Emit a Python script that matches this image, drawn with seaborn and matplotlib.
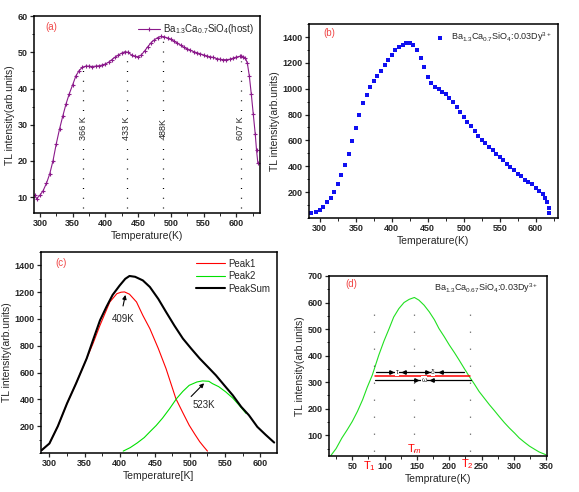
import matplotlib
matplotlib.use("Agg")
import matplotlib.pyplot as plt
import matplotlib.transforms as mtransforms
from matplotlib.ticker import AutoMinorLocator
import seaborn as sns

# (a) host TL glow curve
temp_a = [292, 295, 300, 305, 310, 315, 320, 325, 330, 335, 340, 345, 350, 355, 360,
          365, 370, 375, 380, 385, 390, 395, 400, 405, 410, 415, 420, 425, 430, 435,
          440, 445, 450, 455, 460, 465, 470, 475, 480, 485, 490, 495, 500, 505, 510,
          515, 520, 525, 530, 535, 540, 545, 550, 555, 560, 565, 570, 575, 580, 585,
          590, 595, 600, 605, 608, 611, 614, 617, 620, 623, 626, 629, 631, 633]
tl_a = [10.5, 9.6, 10.5, 11.8, 13.8, 16.4, 20.0, 24.7, 28.8, 32.4, 35.8, 38.6, 41.0, 43.5, 45.0,
        45.9, 46.2, 46.2, 46.1, 46.2, 46.3, 46.5, 46.8, 47.3, 48.0, 48.7, 49.3, 49.8, 50.2, 50.0,
        49.3, 48.9, 48.8, 49.3, 50.4, 51.6, 52.7, 53.5, 54.1, 54.4, 54.3, 54.0, 53.6, 53.1, 52.6,
        52.0, 51.4, 51.0, 50.6, 50.2, 49.9, 49.6, 49.3, 49.0, 48.8, 48.6, 48.3, 48.1, 48.0, 48.0,
        48.1, 48.4, 48.7, 48.9, 49.0, 48.8, 48.5, 47.0, 43.5, 38.5, 33.0, 27.5, 23.0, 19.5]
peaks_a = [366, 433, 488, 607]
peak_labels_a = ["366 K", "433 K", "488K", "607 K"]
peak_tops_a = [45.5, 49.5, 53.5, 47.5]

# (b) Dy doped TL glow curve
temp_b = [288, 295, 300, 305, 310, 315, 320, 325, 330, 335, 340, 345, 350, 355, 360,
          365, 370, 375, 380, 385, 390, 395, 400, 405, 410, 415, 420, 425, 430, 435,
          440, 445, 450, 455, 460, 465, 470, 475, 480, 485, 490, 495, 500, 505, 510,
          515, 520, 525, 530, 535, 540, 545, 550, 555, 560, 565, 570, 575, 580, 585,
          590, 595, 600, 605, 610, 613, 616, 618, 619]
tl_b = [41, 46, 62, 87, 123, 156, 200, 259, 336, 413, 497, 592, 695, 797, 887,
        951, 1010, 1059, 1097, 1138, 1182, 1220, 1259, 1297, 1323, 1341, 1356, 1356, 1336, 1297,
        1241, 1169, 1087, 1041, 1010, 995, 977, 959, 931, 900, 862, 823, 785, 746, 708,
        669, 636, 605, 579, 549, 523, 497, 472, 446, 420, 395, 369, 344, 323, 297,
        277, 259, 233, 210, 182, 156, 123, 80, 41]

# (c) deconvolution
temp_sum = [289, 300, 312, 325, 338, 353, 362, 372, 381, 390, 400, 408, 414, 422, 433,
            443, 455, 466, 478, 490, 502, 514, 526, 537, 549, 561, 573, 584, 596, 608, 620]
tl_sum = [21, 71, 200, 369, 520, 705, 841, 990, 1089, 1180, 1250, 1300, 1321, 1315, 1288,
          1239, 1150, 1053, 950, 854, 778, 705, 640, 580, 505, 431, 345, 282, 195, 135, 78]
temp_p1 = [289, 300, 312, 325, 338, 353, 362, 372, 386, 396, 402, 407, 414, 424, 433,
           443, 455, 466, 480, 490, 499, 507, 514, 520, 525]
tl_p1 = [21, 71, 200, 369, 520, 705, 816, 953, 1127, 1189, 1200, 1202, 1185, 1127, 1027,
         928, 780, 630, 406, 300, 207, 140, 84, 45, 14]
temp_p2 = [405, 415, 425, 435, 443, 452, 461, 471, 481, 490, 499, 510, 518, 527, 532,
           541, 551, 561, 570, 580]
tl_p2 = [14, 40, 75, 115, 158, 205, 260, 330, 406, 460, 505, 530, 538, 535, 518,
         495, 456, 410, 357, 295]

# (d) single peak with shape parameters
temp_d = [17, 25, 34, 42, 50, 58, 66, 73, 81, 91, 99, 107, 114, 122, 130, 138, 146, 153,
          161, 169, 177, 184, 192, 200, 208, 215, 223, 231, 239, 246, 254, 262, 270, 277,
          285, 293, 301, 308, 316, 324, 332, 339, 345, 349]
tl_d = [24, 50, 90, 120, 152, 190, 234, 280, 327, 402, 455, 502, 545, 577, 600, 612, 619, 609,
        590, 565, 535, 502, 472, 440, 411, 384, 352, 321, 292, 265, 240, 215, 192, 171,
        148, 127, 108, 90, 74, 59, 47, 37, 31, 27]
T1, Tm, T2 = 84, 146, 232
half_height = 324

sns.set_style("ticks")
plt.rcParams['font.family'] = ['Liberation Sans', 'DejaVu Sans']
plt.rcParams['mathtext.fontset'] = 'custom'
plt.rcParams['mathtext.rm'] = 'Liberation Sans'
plt.rcParams['mathtext.it'] = 'Liberation Sans:italic'

fig = plt.figure(figsize=(5.79, 4.92), dpi=100)
ax_a = fig.add_axes([0.0587, 0.567, 0.390, 0.400])
ax_b = fig.add_axes([0.5337, 0.557, 0.430, 0.394])
ax_c = fig.add_axes([0.0708, 0.0793, 0.4076, 0.4085])
ax_d = fig.add_axes([0.5682, 0.0732, 0.3765, 0.3659])

tag_color = "#f04848"
purple = "#8b1a8b"


def style(ax, xticks, yticks):
    ax.set_xticks(xticks, [str(t) for t in xticks], fontweight='bold')
    ax.set_yticks(yticks, [str(t) for t in yticks], fontweight='bold')
    for s in ax.spines.values():
        s.set_linewidth(1.1)
        s.set_color("black")
    ax.tick_params(which='major', direction='out', length=3, width=0.9, labelsize=6.5, pad=1.5)
    ax.tick_params(which='minor', direction='out', length=1.8, width=0.7)
    ax.xaxis.set_minor_locator(AutoMinorLocator(2))
    ax.yaxis.set_minor_locator(AutoMinorLocator(2))
    ax.set_ylabel("TL intensity(arb.units)", fontsize=7.5, labelpad=2)


# ---- (a)
sns.lineplot(x=temp_a, y=tl_a, ax=ax_a, color=purple, lw=0.8, marker='+', ms=3.5,
             mew=0.8, mec=purple, estimator=None, label="Ba$_{1.3}$Ca$_{0.7}$SiO$_4$(host)")
for px, lab, top in zip(peaks_a, peak_labels_a, peak_tops_a):
    ax_a.plot([px, px], [7, top], color='black', lw=0.9, ls=(0, (0.8, 7)))
    ax_a.text(px, 29, lab, rotation=90, ha='center', va='center', fontsize=6.5,
              bbox=dict(facecolor='white', edgecolor='none', pad=0.5))
ax_a.set_xlim(291, 636)
ax_a.set_ylim(5.6, 60)
ax_a.set_xlabel("Temperature(K)", fontsize=7.5, labelpad=2)
ax_a.legend(loc='upper right', frameon=False, fontsize=7, handlelength=2.3,
            borderaxespad=0.2, handletextpad=0.3)
ax_a.text(0.05, 0.945, "(a)", transform=ax_a.transAxes, color=tag_color, fontsize=7, va='center')
style(ax_a, list(range(300, 601, 50)), list(range(10, 61, 10)))

# ---- (b)
sns.scatterplot(x=temp_b, y=tl_b, ax=ax_b, color="#1010f0", marker='s', s=10, linewidth=0,
                label="Ba$_{1.3}$Ca$_{0.7}$SiO$_4$:0.03Dy$^{3+}$")
ax_b.set_xlim(285, 631)
ax_b.set_ylim(0, 1500)
ax_b.set_xlabel("Temperature(K)", fontsize=7.5, labelpad=2)
ax_b.legend(loc='upper right', frameon=False, fontsize=6.5, handletextpad=0.2,
            borderaxespad=0.3, markerscale=0.8)
ax_b.text(0.056, 0.954, "(b)", transform=ax_b.transAxes, color=tag_color, fontsize=7, va='center')
style(ax_b, list(range(300, 601, 50)), list(range(200, 1401, 200)))

# ---- (c)
sns.lineplot(x=temp_p1, y=tl_p1, ax=ax_c, color="#ff0000", lw=0.8, estimator=None, label="Peak1")
sns.lineplot(x=temp_p2, y=tl_p2, ax=ax_c, color="#00e000", lw=0.8, estimator=None, label="Peak2")
sns.lineplot(x=temp_sum, y=tl_sum, ax=ax_c, color="black", lw=1.5, estimator=None, label="PeakSum")
ax_c.annotate("", xy=(409, 1200), xytext=(404, 1077),
              arrowprops=dict(arrowstyle='-|>', color='black', lw=0.8, mutation_scale=6))
ax_c.text(405, 1003, "409K", ha='center', va='center', fontsize=7)
ax_c.annotate("", xy=(523, 535), xytext=(499, 407),
              arrowprops=dict(arrowstyle='-|>', color='black', lw=0.8, mutation_scale=6))
ax_c.text(520, 360, "523K", ha='center', va='center', fontsize=7)
ax_c.set_xlim(288, 624)
ax_c.set_ylim(0, 1500)
ax_c.set_xlabel("Temperature[K]", fontsize=7.5, labelpad=2)
ax_c.legend(loc='upper right', frameon=False, fontsize=7, handlelength=3,
            borderaxespad=0.3, handletextpad=0.3, labelspacing=0.25)
ax_c.text(0.06, 0.945, "(c)", transform=ax_c.transAxes, color=tag_color, fontsize=7, va='center')
style(ax_c, list(range(300, 601, 50)), list(range(200, 1401, 200)))

# ---- (d)
sns.lineplot(x=temp_d, y=tl_d, ax=ax_d, color="#20e020", lw=0.8, estimator=None)
for px in [T1, Tm, T2]:
    ax_d.plot([px, px], [40, 580], color='black', lw=0.9, ls=(0, (0.6, 13)))
ax_d.plot([T1 + 1, T2], [half_height, half_height], color='red', lw=1.1)
ax_d.plot([T1 + 3, T2 - 9], [338, 338], color='black', lw=0.9)
ax_d.plot([T1 + 1, T2 + 1], [308, 308], color='black', lw=0.9)
for xm, mk in [(110, '>'), (130, '<'), (166, '>'), (187, '<')]:
    ax_d.plot(xm, 338, marker=mk, color='black', ms=2.5)
for xm, mk in [(148, '>'), (173, '<')]:
    ax_d.plot(xm, 308, marker=mk, color='black', ms=2.5)
ax_d.text(119, 338, "τ", ha='center', va='center', fontsize=5,
          bbox=dict(facecolor='white', edgecolor='none', pad=0.2))
ax_d.text(175, 338, "δ", ha='center', va='center', fontsize=5,
          bbox=dict(facecolor='white', edgecolor='none', pad=0.2))
ax_d.text(161, 308, "ω", ha='center', va='center', fontsize=5,
          bbox=dict(facecolor='white', edgecolor='none', pad=0.2))
trans = mtransforms.blended_transform_factory(ax_d.transData, ax_d.transAxes)
ax_d.text(T1 - 7, -0.055, "T$_1$", transform=trans, color='red', fontsize=8, ha='center', va='center')
ax_d.text(T2 - 4, -0.045, "T$_2$", transform=trans, color='red', fontsize=8, ha='center', va='center')
ax_d.text(Tm, 48, "T$_m$", color='red', fontsize=8, ha='center', va='center')
ax_d.text(0.96, 0.93, "Ba$_{1.3}$Ca$_{0.67}$SiO$_4$:0.03Dy$^{3+}$", transform=ax_d.transAxes,
          ha='right', va='center', fontsize=6.5)
ax_d.set_xlim(14, 351)
ax_d.set_ylim(22, 700)
ax_d.set_xlabel("Temprature(K)", fontsize=7.5, labelpad=2)
ax_d.text(0.073, 0.956, "(d)", transform=ax_d.transAxes, color=tag_color, fontsize=7, va='center')
style(ax_d, list(range(50, 351, 50)), list(range(100, 701, 100)))

fig.savefig("out.png", dpi=100)
